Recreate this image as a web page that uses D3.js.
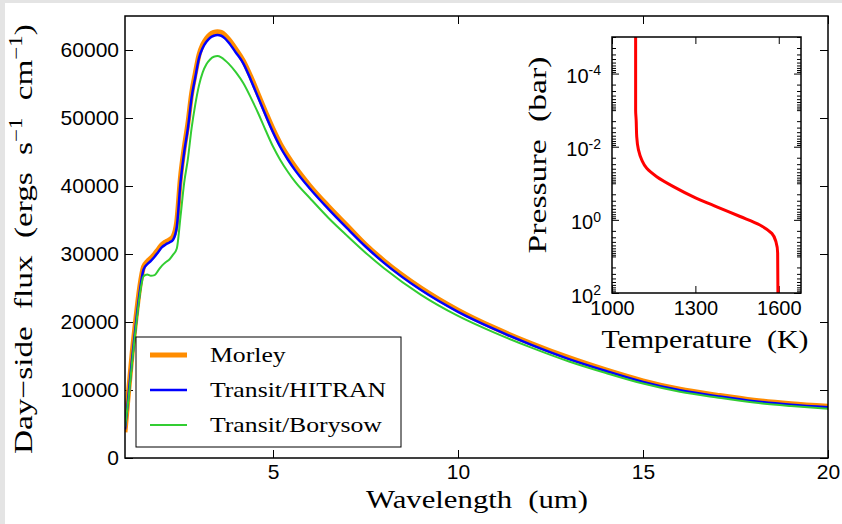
<!DOCTYPE html>
<html>
<head>
<meta charset="utf-8">
<script src="https://cdn.jsdelivr.net/npm/d3@7"></script>
<style>
  body { margin: 0; background: #fff; }
  svg { display: block; }
  .tick text { font-family: "Liberation Sans", Arial, sans-serif; }
  .serif { font-family: "Liberation Serif", "Times New Roman", serif; }
</style>
</head>
<body>
<svg width="842" height="524"></svg>
<script>
// spectrum: wavelength (um) and day-side flux for the three models
const wavelength = [1.0, 1.1, 1.2, 1.3, 1.4, 1.5, 1.6, 1.7, 1.8, 1.9, 2.0, 2.1, 2.2, 2.3, 2.4, 2.5, 2.6, 2.7, 2.8, 2.9,
  3.0, 3.1, 3.2, 3.3, 3.4, 3.5, 3.6, 3.7, 3.8, 4.0, 4.2, 4.4, 4.6, 4.8, 5.0, 5.2, 5.4, 5.6, 6.0, 6.5, 7.0, 7.5, 8.0,
  9, 10, 11, 12, 13, 14, 15, 16, 17, 18, 19, 20]
const morley = [3800, 10000, 15800, 20800, 25200, 28100, 28900, 29400, 30000, 30700, 31400, 31800, 32100, 32600, 34800, 41300, 45600, 49200, 53600, 56600,
  59300, 60800, 61700, 62300, 62600, 62700, 62600, 62200, 61600, 60100, 58400, 56100, 53500, 50900, 48400, 46200, 44400, 42800, 40000, 37000, 34200, 31400, 29000,
  25000, 21750, 19100, 16800, 14750, 12950, 11350, 10100, 9250, 8500, 7980, 7600]
const hitran = [4200, 9500, 15000, 20000, 24500, 27700, 28500, 29000, 29600, 30300, 31000, 31400, 31700, 32100, 34000, 40500, 45000, 48500, 53000, 56000,
  58800, 60300, 61200, 61800, 62100, 62200, 62100, 61700, 61100, 59600, 58000, 55600, 53000, 50400, 47900, 45700, 43900, 42300, 39600, 36600, 33800, 31100, 28700,
  24700, 21500, 18900, 16600, 14550, 12800, 11200, 9950, 9100, 8350, 7830, 7450]
const borysow = [4600, 9000, 14500, 19500, 24000, 26700, 27000, 26800, 26900, 27600, 28300, 28800, 29200, 29900, 30800, 35500, 40500, 44000, 48500, 52000,
  54800, 56700, 57900, 58600, 59000, 59100, 58900, 58500, 58000, 56700, 55100, 53000, 50700, 48200, 45800, 43800, 42100, 40600, 38200, 35300, 32700, 30200, 27900,
  24000, 20900, 18400, 16200, 14200, 12500, 10950, 9750, 8900, 8150, 7650, 7250]

// temperature-pressure profile for the inset
const tpTemp  = [1085, 1085, 1087, 1089, 1095, 1107, 1125, 1161, 1221, 1293, 1377, 1461, 1532, 1575, 1590, 1596, 1597]
const tpPress = [1e-5, 1e-3, 1.9e-3, 5.4e-3, 1.2e-2, 2.3e-2, 3.9e-2, 6.6e-2, 0.123, 0.234, 0.44, 0.81, 1.38, 2.34, 4.0, 8.1, 100]

const xTicks = [5, 10, 15, 20]
const yTicks = [0, 10000, 20000, 30000, 40000, 50000, 60000]
const tTicks = [1000, 1300, 1600]
const pLabelExp = [-4, -2, 0, 2]

const series = [
  { name: "Morley", values: morley, color: "#ff8c00", width: 5 },
  { name: "Transit/HITRAN", values: hitran, color: "#0000ff", width: 2.5 },
  { name: "Transit/Borysow", values: borysow, color: "#32cd32", width: 2 }
]

let svg = d3.select("svg")

// grey textured page edge
svg.append("rect").attr("x", 0).attr("y", 0).attr("width", 842).attr("height", 3).attr("fill", "#e4e4e4")
svg.append("rect").attr("x", 0).attr("y", 0).attr("width", 5).attr("height", 524).attr("fill", "#e4e4e4")

let mLeft = 125, mRight = 828, mTop = 16, mBottom = 458

let x = d3.scaleLinear().domain([1, 20]).range([mLeft, mRight])
let y = d3.scaleLinear().domain([0, 65000]).range([mBottom, mTop])

function styleAxis(g, size) {
  g.select(".domain").remove()
  g.selectAll(".tick line").attr("stroke", "#000").attr("stroke-width", 1)
  g.selectAll(".tick text").attr("fill", "#000").style("font-size", size + "px")
}

// widen a serif title (Computer Modern is wider than Times) to the picture's length
function stretchText(t, place, target) {
  let len = t.node().getComputedTextLength()
  t.attr("transform", place + " scale(" + (target / len) + ",1)")
}

svg.append("g").attr("transform", "translate(0," + mBottom + ")")
  .call(d3.axisBottom(x).tickValues(xTicks).tickSize(-8).tickPadding(6).tickFormat(d3.format("d")))
  .call(g => styleAxis(g, 21))
svg.append("g").attr("transform", "translate(0," + mTop + ")")
  .call(d3.axisTop(x).tickValues(xTicks).tickSize(-8).tickFormat(""))
  .call(g => styleAxis(g, 21))
svg.append("g").attr("transform", "translate(" + mLeft + ",0)")
  .call(d3.axisLeft(y).tickValues(yTicks).tickSize(-8).tickPadding(6).tickFormat(d3.format("d")))
  .call(g => styleAxis(g, 21))
svg.append("g").attr("transform", "translate(" + mRight + ",0)")
  .call(d3.axisRight(y).tickValues(yTicks).tickSize(-8).tickFormat(""))
  .call(g => styleAxis(g, 21))

let line = d3.line().curve(d3.curveMonotoneX)

let clip = svg.append("clipPath").attr("id", "main-clip")
clip.append("rect").attr("x", mLeft).attr("y", mTop).attr("width", mRight - mLeft).attr("height", mBottom - mTop)

let plot = svg.append("g").attr("clip-path", "url(#main-clip)")
series.forEach(s => {
  plot.append("path")
    .datum(wavelength.map((w, i) => [x(w), y(s.values[i])]))
    .attr("fill", "none")
    .attr("stroke", s.color)
    .attr("stroke-width", s.width)
    .attr("stroke-linejoin", "round")
    .attr("d", line)
})

svg.append("rect")
  .attr("x", mLeft).attr("y", mTop).attr("width", mRight - mLeft).attr("height", mBottom - mTop)
  .attr("fill", "none").attr("stroke", "#000").attr("stroke-width", 1.5)

// axis titles
let xt = svg.append("text").attr("class", "serif")
  .attr("text-anchor", "middle").style("font-size", "26px").style("word-spacing", "7px")
  .text("Wavelength (um)")
stretchText(xt, "translate(477,508)", 222)

let yt = svg.append("text").attr("class", "serif")
  .attr("text-anchor", "middle").style("font-size", "26px").style("word-spacing", "7px")
yt.append("tspan").text("Day\u2212side flux (ergs s")
yt.append("tspan").attr("baseline-shift", "super").style("font-size", "18px").text("\u22121")
yt.append("tspan").text(" cm")
yt.append("tspan").attr("baseline-shift", "super").style("font-size", "18px").text("\u22121")
yt.append("tspan").text(")")
stretchText(yt, "translate(32,239) rotate(-90)", 430)

// legend
let legend = svg.append("g")
legend.append("rect").attr("x", 136).attr("y", 337).attr("width", 265).attr("height", 110)
  .attr("fill", "#fff").attr("stroke", "#000").attr("stroke-width", 1)
let legendText = []
series.forEach((s, i) => {
  let ly = 355 + i * 35
  legend.append("line").attr("x1", 150).attr("x2", 187).attr("y1", ly).attr("y2", ly)
    .attr("stroke", s.color).attr("stroke-width", s.width)
  legendText.push(legend.append("text").attr("class", "serif")
    .style("font-size", "21px").text(s.name).datum(ly))
})
let legendScale = 172 / legendText[2].node().getComputedTextLength()
legendText.forEach(t => t.attr("transform", "translate(210," + (t.datum() + 7) + ") scale(" + legendScale + ",1)"))

// inset: temperature-pressure profile
let il = 612, ir = 801, it = 37, ib = 293
let xi = d3.scaleLinear().domain([1000, 1680]).range([il, ir])
let yi = d3.scaleLog().domain([1e-5, 1e2]).range([it, ib])

svg.append("rect").attr("x", il).attr("y", it).attr("width", ir - il).attr("height", ib - it).attr("fill", "#fff")

let pMajor = pLabelExp.map(e => Math.pow(10, e))
let pMinor = []
for (let k = -5; k <= 1; k++) {
  for (let m = 1; m <= 9; m++) {
    let v = m * Math.pow(10, k)
    if (!pMajor.some(p => Math.abs(p - v) / v < 1e-9)) pMinor.push(v)
  }
}

let inset = svg.append("g")
inset.append("g").attr("transform", "translate(0," + ib + ")")
  .call(d3.axisBottom(xi).tickValues(tTicks).tickSize(-7).tickPadding(8).tickFormat(d3.format("d")))
  .call(g => styleAxis(g, 20))
inset.append("g").attr("transform", "translate(0," + it + ")")
  .call(d3.axisTop(xi).tickValues(tTicks).tickSize(-7).tickFormat(""))
  .call(g => styleAxis(g, 20))
inset.append("g").attr("transform", "translate(" + il + ",0)")
  .call(d3.axisLeft(yi).tickValues(pMinor).tickSize(-4).tickFormat(""))
  .call(g => styleAxis(g, 20))
inset.append("g").attr("transform", "translate(" + ir + ",0)")
  .call(d3.axisRight(yi).tickValues(pMinor).tickSize(-4).tickFormat(""))
  .call(g => styleAxis(g, 20))
inset.append("g").attr("transform", "translate(" + ir + ",0)")
  .call(d3.axisRight(yi).tickValues(pMajor).tickSize(-7).tickFormat(""))
  .call(g => styleAxis(g, 20))

let pAxis = inset.append("g").attr("transform", "translate(" + il + ",0)")
  .call(d3.axisLeft(yi).tickValues(pMajor).tickSize(-7).tickPadding(11).tickFormat(""))
  .call(g => styleAxis(g, 20))
pAxis.selectAll(".tick text").each(function(d) {
  let t = d3.select(this).attr("dy", "0.45em")
  t.append("tspan").text("10")
  t.append("tspan").attr("dy", "-0.55em").style("font-size", "14px").text(String(Math.round(Math.log10(d))))
})

inset.append("path")
  .datum(tpTemp.map((t, i) => [xi(t), yi(tpPress[i])]))
  .attr("fill", "none").attr("stroke", "#ff0000").attr("stroke-width", 3)
  .attr("d", d3.line().curve(d3.curveMonotoneY))

inset.append("rect").attr("x", il).attr("y", it).attr("width", ir - il).attr("height", ib - it)
  .attr("fill", "none").attr("stroke", "#000").attr("stroke-width", 1.5)

let tt = inset.append("text").attr("class", "serif")
  .attr("text-anchor", "middle").style("font-size", "26px").style("word-spacing", "7px")
  .text("Temperature (K)")
stretchText(tt, "translate(705,348)", 207)
let pt = inset.append("text").attr("class", "serif")
  .attr("text-anchor", "middle").style("font-size", "26px").style("word-spacing", "7px")
  .text("Pressure (bar)")
stretchText(pt, "translate(546,155) rotate(-90)", 197)
</script>
</body>
</html>
